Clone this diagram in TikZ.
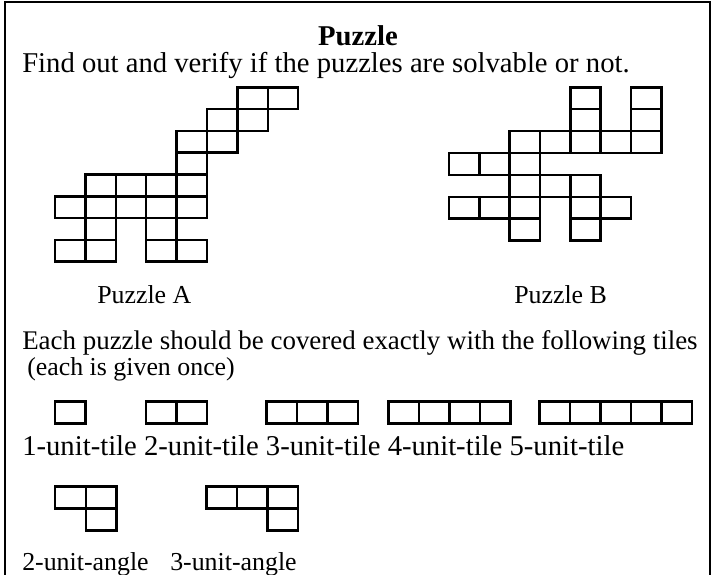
\documentclass[tikz,border=0pt]{standalone}
\usepackage{fontspec}
\setmainfont{Liberation Serif}
\usepackage{tikz}

\tikzset{
  sq/.style={line width=1.9pt},
  txt/.style={inner sep=0pt, anchor=base west, font=\fontsize{21.5}{26}\selectfont},
  small txt/.style={txt, font=\fontsize{19.4}{23}\selectfont},
}

\begin{document}
\begin{tikzpicture}[x=0.75pt,y=-0.75pt]
\useasboundingbox (0,0) rectangle (715,575);
% frame, open at the bottom
\draw[line width=1.3pt] (5,575) -- (5,2) -- (710,2) -- (710,575);
% title and task
\node[txt, anchor=base, font=\fontsize{21.5}{26}\selectfont\bfseries] (title) at (358,45) {Puzzle};
\node[txt] (task) at (22,72) {Find out and verify if the puzzles are solvable or not.};
% puzzle A
\begin{scope}[shift={(55,87.3)}]
\foreach \c/\r in {6/0,7/0,5/1,6/1,4/2,5/2,4/3,1/4,2/4,3/4,4/4,0/5,1/5,2/5,3/5,4/5,1/6,3/6,0/7,1/7,3/7,4/7}
  \draw[sq] (\c*30.4,\r*21.8) rectangle ++(30.4,21.8);
\end{scope}
% puzzle B
\begin{scope}[shift={(449,87.3)}]
\foreach \c/\r in {4/0,6/0,4/1,6/1,2/2,3/2,4/2,5/2,6/2,0/3,1/3,2/3,2/4,3/4,4/4,0/5,1/5,2/5,4/5,5/5,2/6,4/6}
  \draw[sq] (\c*30.35,\r*21.9) rectangle ++(30.35,21.9);
\end{scope}
\node[small txt] (nameA) at (97,303) {Puzzle A};
\node[small txt] (nameB) at (514,303) {Puzzle B};
\node[txt, font=\fontsize{20.2}{24}\selectfont] (rule) at (22,349) {Each puzzle should be covered exactly with the following tiles};
\node[small txt] (rule2) at (27,375) {(each is given once)};
% straight tiles
\foreach \x/\n in {55/1,146/2,266.7/3,388.3/4,539.3/5}
  \foreach \i in {1,...,\n}
    \draw[sq] (\x+\i*30.5-30.5,401.7) rectangle ++(30.5,21.6);
\node[txt] (tiles) at (22,455) {1-unit-tile 2-unit-tile 3-unit-tile 4-unit-tile 5-unit-tile};
% angle tiles
\foreach \c/\r in {0/0,1/0,1/1}
  \draw[sq] (55+\c*30.8,486.7+\r*22) rectangle ++(30.8,22);
\foreach \c/\r in {0/0,1/0,2/0,2/1}
  \draw[sq] (206.7+\c*30.5,486.7+\r*22) rectangle ++(30.5,22);
\node[small txt] (angA) at (22,570) {2-unit-angle};
\node[small txt] (angB) at (170,570) {3-unit-angle};
\end{tikzpicture}
\end{document}
